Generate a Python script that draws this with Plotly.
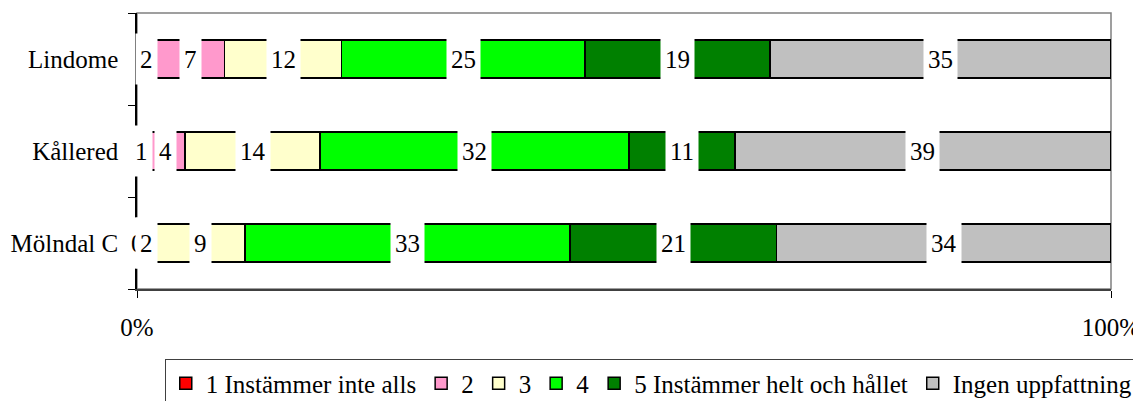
import plotly.graph_objects as go

categories = ["Mölndal C", "Kållered", "Lindome"]
series_names = ["1 Instämmer inte alls", "2", "3", "4",
                "5 Instämmer helt och hållet", "Ingen uppfattning"]
v1 = [0, 1, 2]
v2 = [2, 4, 7]
v3 = [9, 14, 12]
v4 = [33, 32, 25]
v5 = [21, 11, 19]
v_ingen = [34, 39, 35]
colors = ["#FF0000", "#FF99CC", "#FFFFCC", "#00FF00", "#008000", "#C0C0C0"]

series = [v1, v2, v3, v4, v5, v_ingen]
FONT = "Liberation Serif"
FS = 25

fig = go.Figure()
for name, vals, col in zip(series_names, series, colors):
    fig.add_trace(go.Bar(
        y=categories, x=vals, name=name, orientation="h",
        marker=dict(color=col, line=dict(color="black", width=1.5)),
        hoverinfo="skip",
    ))

# data labels with white background, centred in each segment
totals = [sum(s[i] for s in series) for i in range(len(categories))]
annotations = []
for i, cat in enumerate(categories):
    cum = 0.0
    for s in series:
        val = s[i]
        pct = 100.0 * val / totals[i]
        mid = cum + pct / 2
        cum += pct
        annotations.append(dict(
            x=mid, y=cat, xref="x", yref="y", text=str(val), showarrow=False,
            bgcolor="white", borderpad=4, height=42,
            font=dict(family=FONT, size=FS, color="black"),
        ))

# the page body adds an 8px offset, so the figure is 8px smaller
fig.update_layout(
    width=1133, height=393,
    margin=dict(l=129, r=30, t=5, b=112, autoexpand=False),
    paper_bgcolor="white", plot_bgcolor="white",
    barmode="stack", barnorm="percent", bargap=0.587,
    font=dict(family=FONT, size=FS, color="black"),
    annotations=annotations,
    showlegend=True,
    legend=dict(
        orientation="h", x=0.528, xanchor="center", y=-0.255, yanchor="top",
        bordercolor="#404040", borderwidth=1, bgcolor="white",
        font=dict(family=FONT, size=FS, color="black"),
        traceorder="normal", tracegroupgap=0,
    ),
    shapes=[dict(type="rect", xref="paper", yref="paper", x0=0, x1=1, y0=0, y1=1,
                 line=dict(color="#808080", width=1.5), layer="below")],
)
fig.update_xaxes(
    range=[0, 100], tickvals=[0, 100], ticktext=["0%", "100%"],
    showgrid=False, zeroline=False, showline=True, linecolor="#404040", linewidth=1.5,
    ticks="outside", ticklen=7, tickcolor="black", ticklabelstandoff=8,
    fixedrange=True, automargin=False,
)
fig.update_yaxes(
    categoryorder="array", categoryarray=categories,
    showgrid=False, zeroline=False, showline=True, linecolor="black", linewidth=1.5,
    ticks="outside", ticklen=7, tickcolor="black", tickson="boundaries",
    ticklabelstandoff=12, fixedrange=True, automargin=False,
)

fig.write_html("out.html")
